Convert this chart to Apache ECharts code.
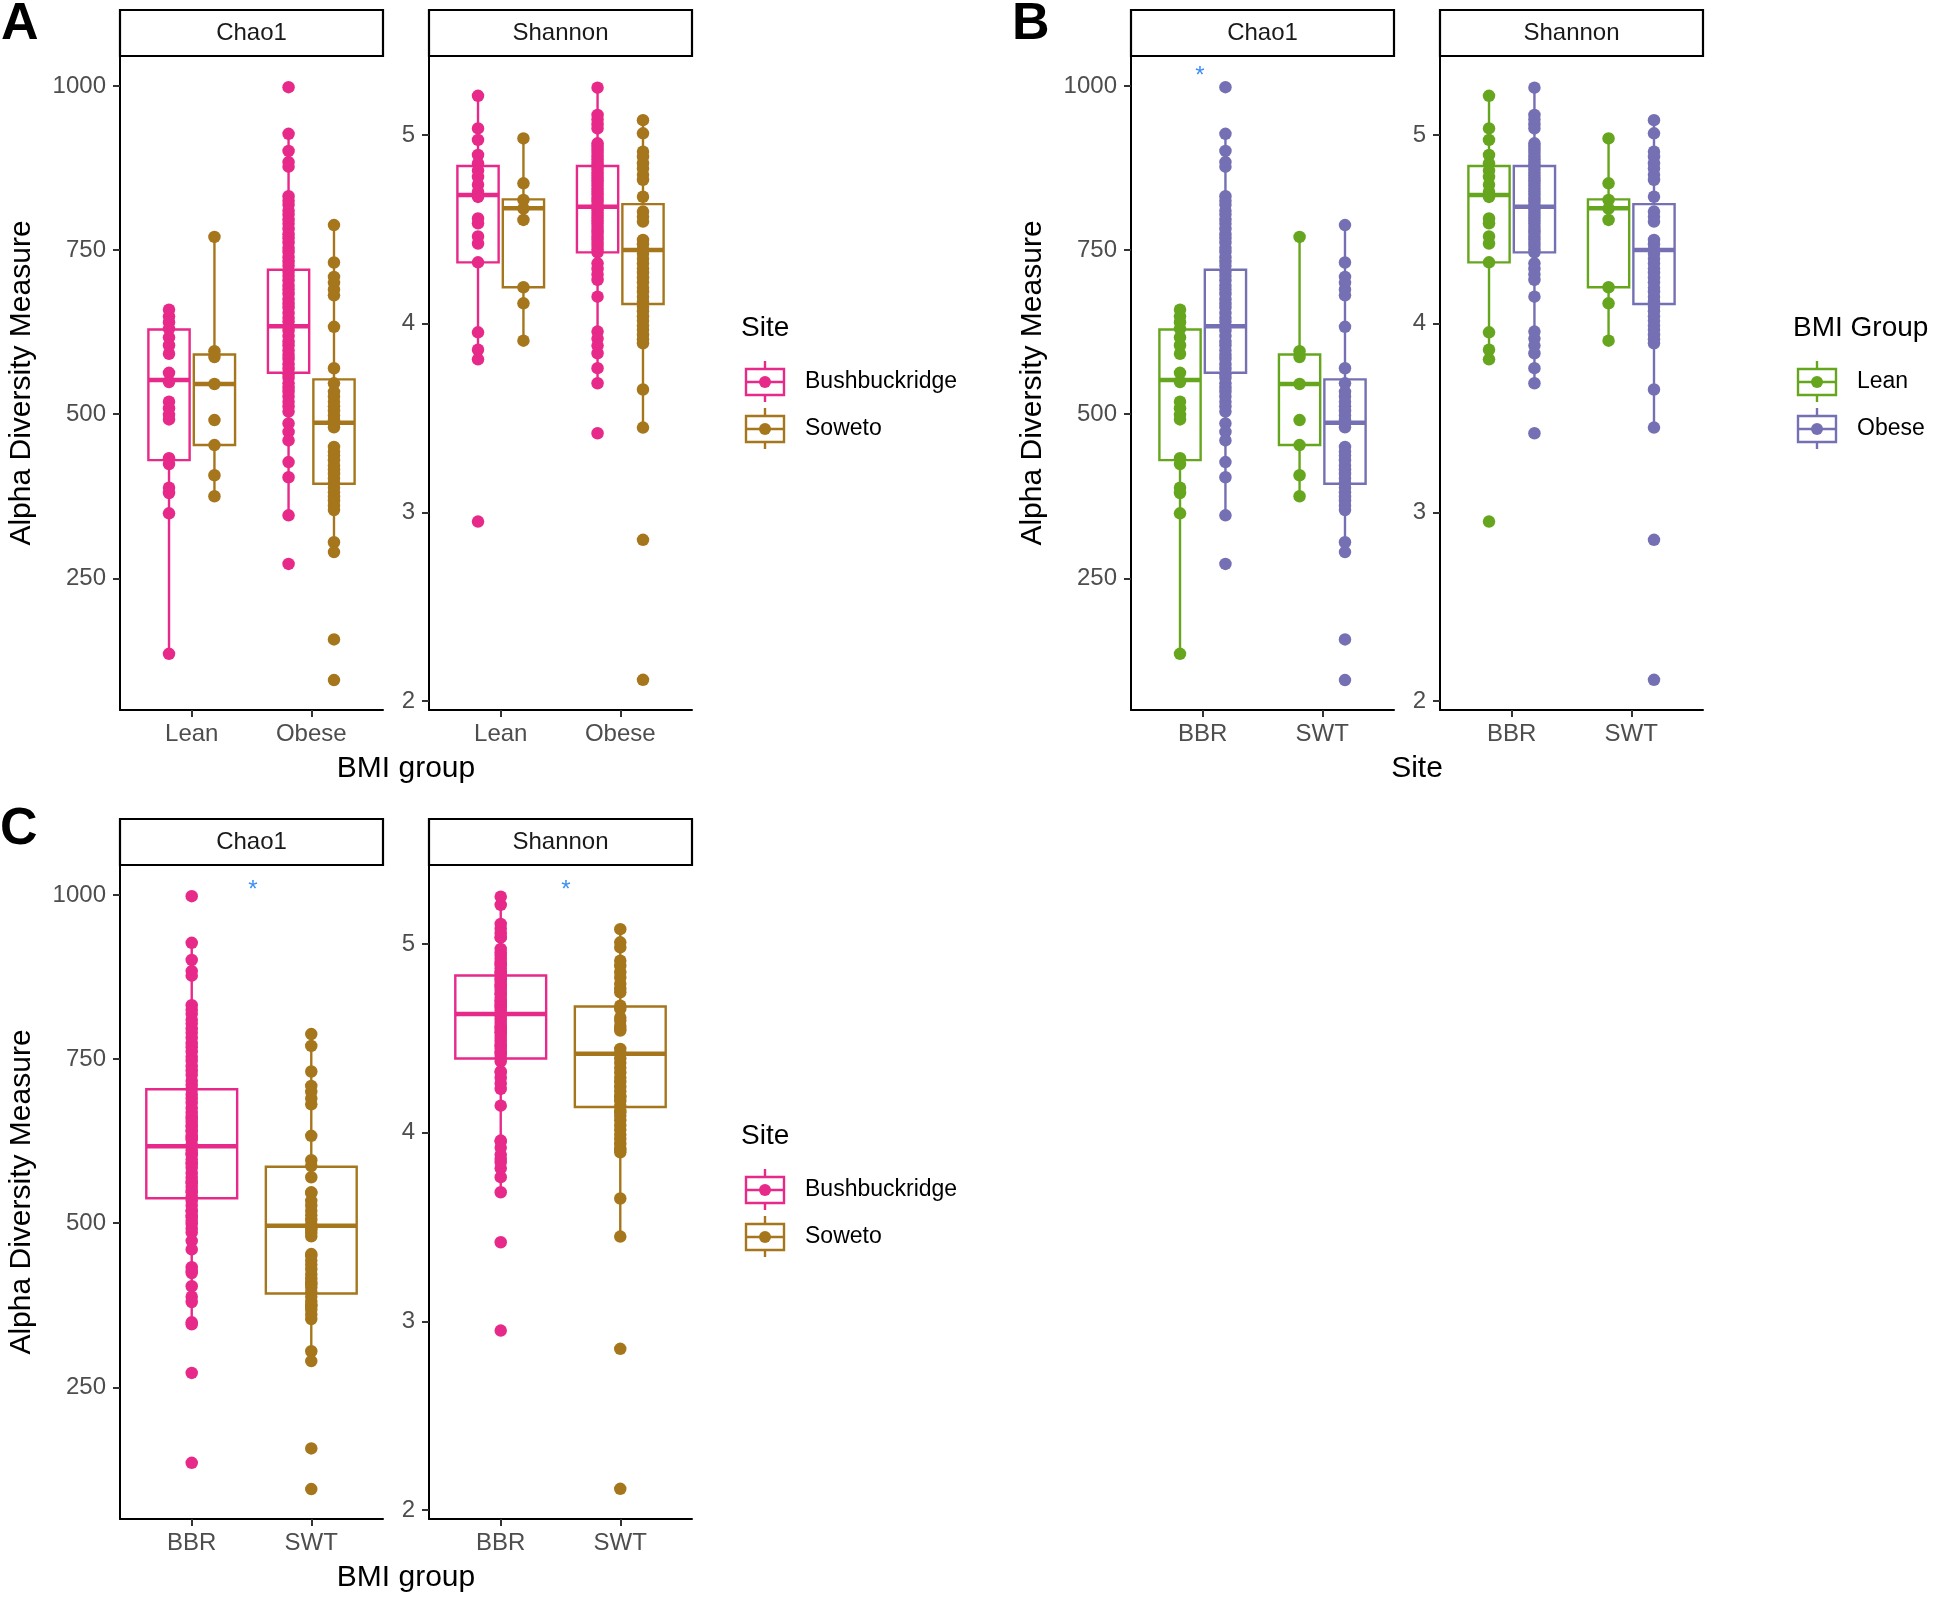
<!DOCTYPE html>
<html>
<head>
<meta charset="utf-8">
<script src="https://cdn.jsdelivr.net/npm/echarts@6/dist/echarts.min.js"></script>
<style>
  html, body { margin: 0; padding: 0; background: #fff; }
  #main { width: 1946px; height: 1597px; }
</style>
</head>
<body>
<div id="main"></div>
<script>
// categories / labels
var bmiCats = ['Lean', 'Obese']
var siteCats = ['BBR', 'SWT']
var siteNames = ['Bushbuckridge', 'Soweto']
var bmiNames = ['Lean', 'Obese']
var chaoTicks = [250, 500, 750, 1000]
var shanTicks = [2, 3, 4, 5]

// Chao1 values per site x BMI group
var chaoLeanBBR = [659, 649, 640, 630, 617, 605, 592, 563, 549, 519, 509, 499, 492, 433, 424, 388, 380, 349, 135]
var chaoLeanSWT = [770, 596, 587, 546, 491, 453, 407, 375]
var chaoObeseBBR = [998, 927, 901, 884, 877, 832, 825, 819, 810, 804, 796, 790, 782, 774, 768, 761, 753, 747, 739, 732,
  726, 717, 711, 704, 696, 690, 683, 675, 668, 662, 654, 647, 641, 633, 627, 619, 611, 605, 597, 590,
  584, 576, 569, 561, 555, 547, 540, 534, 527, 519, 512, 504, 486, 473, 460, 427, 404, 346, 272]
var chaoObeseSWT = [788, 731, 709, 700, 690, 681, 633, 570, 547, 534, 527, 519, 512, 505, 498, 491, 485, 480,
  450, 443, 437, 430, 422, 415, 409, 402, 395, 388, 381, 374, 368, 361, 354, 305, 290, 157, 95]

// Shannon values per site x BMI group
var shanLeanBBR = [5.208, 5.035, 4.974, 4.894, 4.85, 4.812, 4.778, 4.737, 4.70, 4.672, 4.558, 4.532, 4.462, 4.425, 4.325, 3.954, 3.862, 3.811, 2.951]
var shanLeanSWT = [4.982, 4.744, 4.656, 4.61, 4.55, 4.193, 4.108, 3.91]
var shanObeseBBR = [5.251, 5.106, 5.083, 5.057, 5.035, 4.956, 4.941, 4.921, 4.906, 4.888, 4.871, 4.852, 4.836, 4.819, 4.801,
  4.786, 4.767, 4.751, 4.734, 4.716, 4.701, 4.683, 4.665, 4.649, 4.631, 4.616, 4.598, 4.581, 4.564, 4.547, 4.531,
  4.514, 4.496, 4.481, 4.462, 4.446, 4.429, 4.413, 4.394, 4.378, 4.32, 4.29, 4.261, 4.232, 4.143, 3.958, 3.921,
  3.884, 3.843, 3.764, 3.684, 3.419]
var shanObeseSWT = [5.079, 5.009, 4.912, 4.884, 4.851, 4.823, 4.79, 4.762, 4.673, 4.594, 4.567, 4.541, 4.444, 4.421,
  4.394, 4.371, 4.344, 4.319, 4.292, 4.269, 4.242, 4.219, 4.191, 4.168, 4.141, 4.118, 4.09, 4.066, 4.039, 4.016,
  3.99, 3.966, 3.94, 3.917, 3.896, 3.651, 3.449, 2.854, 2.112]

// box stats: [lower whisker, q1, median, q3, upper whisker]
var chaoBoxLeanBBR = [135, 430, 552, 629, 659]
var chaoBoxLeanSWT = [375, 453, 546, 591, 770]
var chaoBoxObeseBBR = [346, 563, 634, 720, 927]
var chaoBoxObeseSWT = [290, 394, 487, 553, 788]
var shanBoxLeanBBR = [3.811, 4.325, 4.682, 4.836, 5.208]
var shanBoxLeanSWT = [3.91, 4.193, 4.612, 4.659, 4.982]
var shanBoxObeseBBR = [3.684, 4.378, 4.62, 4.836, 5.251]
var shanBoxObeseSWT = [3.449, 4.104, 4.391, 4.634, 5.079]
var chaoBoxBBR = [349, 538, 617, 704, 929]
var chaoBoxSWT = [290, 393, 496, 586, 790]
var shanBoxBBR = [3.684, 4.393, 4.629, 4.833, 5.251]
var shanBoxSWT = [3.449, 4.136, 4.419, 4.669, 5.079]

var colPink = '#E7298A'
var colBrown = '#A6761D'
var colGreen = '#66A61E'
var colPurple = '#7570B3'
var fontFam = 'Liberation Sans, Arial, Helvetica, sans-serif'

var chart = echarts.init(document.getElementById('main'))
var grids = []
var xAxes = []
var yAxes = []
var series = []
var graphics = []

function addPanel (left, top, cats, yMin, yMax, yTicks) {
  var gi = grids.length
  grids.push({ left: left, top: top, width: 263, height: 654 })
  xAxes.push({
    gridIndex: gi,
    type: 'value',
    min: 0.4,
    max: 2.6,
    axisLine: { onZero: false, lineStyle: { color: '#000', width: 2 } },
    axisTick: { customValues: [1, 2], length: 7, lineStyle: { color: '#333', width: 2 } },
    axisLabel: {
      customValues: [1, 2],
      formatter: function (v) { return cats[Math.round(v) - 1] },
      color: '#4D4D4D',
      fontSize: 24,
      fontFamily: fontFam,
      margin: 12
    },
    splitLine: { show: false }
  })
  yAxes.push({
    gridIndex: gi,
    type: 'value',
    min: yMin,
    max: yMax,
    axisLine: { show: true, onZero: false, lineStyle: { color: '#000', width: 2 } },
    axisTick: { show: true, customValues: yTicks, length: 7, lineStyle: { color: '#333', width: 2 } },
    axisLabel: {
      customValues: yTicks,
      formatter: function (v) { return String(v) },
      color: '#4D4D4D',
      fontSize: 24,
      fontFamily: fontFam,
      margin: 14
    },
    splitLine: { show: false }
  })
  return gi
}

function addBoxes (gi, color, boxW, rows) {
  series.push({
    type: 'custom',
    xAxisIndex: gi,
    yAxisIndex: gi,
    z: 2,
    silent: true,
    encode: { x: 0, y: [1, 2, 3, 4, 5] },
    data: rows,
    renderItem: function (params, api) {
      var x = api.value(0)
      var pLo = api.coord([x, api.value(1)])
      var pQ1 = api.coord([x, api.value(2)])
      var pMed = api.coord([x, api.value(3)])
      var pQ3 = api.coord([x, api.value(4)])
      var pHi = api.coord([x, api.value(5)])
      var hw = api.size([boxW, 0])[0] / 2
      var cx = pMed[0]
      return {
        type: 'group',
        children: [
          { type: 'line', shape: { x1: cx, y1: pQ3[1], x2: cx, y2: pHi[1] }, style: { stroke: color, lineWidth: 2.4 } },
          { type: 'line', shape: { x1: cx, y1: pQ1[1], x2: cx, y2: pLo[1] }, style: { stroke: color, lineWidth: 2.4 } },
          { type: 'rect', shape: { x: cx - hw, y: pQ3[1], width: hw * 2, height: pQ1[1] - pQ3[1] }, style: { fill: '#fff', stroke: color, lineWidth: 2.4 } },
          { type: 'line', shape: { x1: cx - hw, y1: pMed[1], x2: cx + hw, y2: pMed[1] }, style: { stroke: color, lineWidth: 4.5 } }
        ]
      }
    }
  })
}

function pts (x, vals) {
  return vals.map(function (v) { return [x, v] })
}

function addPoints (gi, color, data) {
  series.push({
    type: 'scatter',
    xAxisIndex: gi,
    yAxisIndex: gi,
    z: 3,
    silent: true,
    symbolSize: 12.5,
    itemStyle: { color: color, opacity: 1 },
    data: data
  })
}

function strip (left, top, label) {
  graphics.push({
    type: 'rect', shape: { x: left, y: top, width: 263, height: 46 },
    style: { fill: '#fff', stroke: '#000', lineWidth: 2.2 }
  })
  graphics.push({
    type: 'text', x: left + 131.5, y: top + 23,
    style: { text: label, fill: '#1A1A1A', fontSize: 24, fontFamily: fontFam, align: 'center', verticalAlign: 'middle' }
  })
}

function txt (x, y, s, size, opts) {
  opts = opts || {}
  graphics.push({
    type: 'text', x: x, y: y, rotation: opts.rotation || 0,
    style: {
      text: s, fill: opts.color || '#000', fontSize: size, fontFamily: fontFam,
      fontWeight: opts.bold ? 'bold' : 'normal',
      align: opts.align || 'left', verticalAlign: 'middle'
    }
  })
}

function legend (x, y, title, names, colors) {
  txt(x, y, title, 28)
  for (var i = 0; i < names.length; i++) {
    var cx = x + 24
    var cy = y + 54 + i * 47
    var c = colors[i]
    graphics.push({ type: 'line', shape: { x1: cx, y1: cy - 21, x2: cx, y2: cy + 20 }, style: { stroke: c, lineWidth: 2.4 } })
    graphics.push({ type: 'rect', shape: { x: cx - 19, y: cy - 13, width: 38, height: 26 }, style: { fill: '#fff', stroke: c, lineWidth: 2.4 } })
    graphics.push({ type: 'line', shape: { x1: cx - 19, y1: cy, x2: cx + 19, y2: cy }, style: { stroke: c, lineWidth: 2.4 } })
    graphics.push({ type: 'circle', shape: { cx: cx, cy: cy, r: 6 }, style: { fill: c } })
    txt(x + 64, cy, names[i], 23)
  }
}

var chaoMin = 49.5
var chaoMax = 1045.5
var shanMin = 1.952
var shanMax = 5.419
var dodge = 0.19
var boxW = 0.345

// Panel A: x = BMI group, colour = site
var a1 = addPanel(120, 56, bmiCats, chaoMin, chaoMax, chaoTicks)
addBoxes(a1, colPink, boxW, [[1 - dodge].concat(chaoBoxLeanBBR), [2 - dodge].concat(chaoBoxObeseBBR)])
addBoxes(a1, colBrown, boxW, [[1 + dodge].concat(chaoBoxLeanSWT), [2 + dodge].concat(chaoBoxObeseSWT)])
addPoints(a1, colPink, pts(1 - dodge, chaoLeanBBR).concat(pts(2 - dodge, chaoObeseBBR)))
addPoints(a1, colBrown, pts(1 + dodge, chaoLeanSWT).concat(pts(2 + dodge, chaoObeseSWT)))

var a2 = addPanel(429, 56, bmiCats, shanMin, shanMax, shanTicks)
addBoxes(a2, colPink, boxW, [[1 - dodge].concat(shanBoxLeanBBR), [2 - dodge].concat(shanBoxObeseBBR)])
addBoxes(a2, colBrown, boxW, [[1 + dodge].concat(shanBoxLeanSWT), [2 + dodge].concat(shanBoxObeseSWT)])
addPoints(a2, colPink, pts(1 - dodge, shanLeanBBR).concat(pts(2 - dodge, shanObeseBBR)))
addPoints(a2, colBrown, pts(1 + dodge, shanLeanSWT).concat(pts(2 + dodge, shanObeseSWT)))

// Panel B: x = site, colour = BMI group
var b1 = addPanel(1131, 56, siteCats, chaoMin, chaoMax, chaoTicks)
addBoxes(b1, colGreen, boxW, [[1 - dodge].concat(chaoBoxLeanBBR), [2 - dodge].concat(chaoBoxLeanSWT)])
addBoxes(b1, colPurple, boxW, [[1 + dodge].concat(chaoBoxObeseBBR), [2 + dodge].concat(chaoBoxObeseSWT)])
addPoints(b1, colGreen, pts(1 - dodge, chaoLeanBBR).concat(pts(2 - dodge, chaoLeanSWT)))
addPoints(b1, colPurple, pts(1 + dodge, chaoObeseBBR).concat(pts(2 + dodge, chaoObeseSWT)))

var b2 = addPanel(1440, 56, siteCats, shanMin, shanMax, shanTicks)
addBoxes(b2, colGreen, boxW, [[1 - dodge].concat(shanBoxLeanBBR), [2 - dodge].concat(shanBoxLeanSWT)])
addBoxes(b2, colPurple, boxW, [[1 + dodge].concat(shanBoxObeseBBR), [2 + dodge].concat(shanBoxObeseSWT)])
addPoints(b2, colGreen, pts(1 - dodge, shanLeanBBR).concat(pts(2 - dodge, shanLeanSWT)))
addPoints(b2, colPurple, pts(1 + dodge, shanObeseBBR).concat(pts(2 + dodge, shanObeseSWT)))

// Panel C: x = site, pooled
var c1 = addPanel(120, 865, siteCats, chaoMin, chaoMax, chaoTicks)
addBoxes(c1, colPink, 0.76, [[1].concat(chaoBoxBBR)])
addBoxes(c1, colBrown, 0.76, [[2].concat(chaoBoxSWT)])
addPoints(c1, colPink, pts(1, chaoLeanBBR.concat(chaoObeseBBR)))
addPoints(c1, colBrown, pts(2, chaoLeanSWT.concat(chaoObeseSWT)))

var c2 = addPanel(429, 865, siteCats, shanMin, shanMax, shanTicks)
addBoxes(c2, colPink, 0.76, [[1].concat(shanBoxBBR)])
addBoxes(c2, colBrown, 0.76, [[2].concat(shanBoxSWT)])
addPoints(c2, colPink, pts(1, shanLeanBBR.concat(shanObeseBBR)))
addPoints(c2, colBrown, pts(2, shanLeanSWT.concat(shanObeseSWT)))

// strips
strip(120, 10, 'Chao1')
strip(429, 10, 'Shannon')
strip(1131, 10, 'Chao1')
strip(1440, 10, 'Shannon')
strip(120, 819, 'Chao1')
strip(429, 819, 'Shannon')

// panel letters
txt(1, 25, 'A', 52, { bold: true })
txt(1012, 25, 'B', 52, { bold: true })
txt(0, 830, 'C', 52, { bold: true })

// axis titles
txt(22, 383, 'Alpha Diversity Measure', 30, { rotation: Math.PI / 2, align: 'center' })
txt(1033, 383, 'Alpha Diversity Measure', 30, { rotation: Math.PI / 2, align: 'center' })
txt(22, 1192, 'Alpha Diversity Measure', 30, { rotation: Math.PI / 2, align: 'center' })
txt(406, 769, 'BMI group', 30, { align: 'center' })
txt(1417, 769, 'Site', 30, { align: 'center' })
txt(406, 1578, 'BMI group', 30, { align: 'center' })

// significance marks
txt(1200, 76, '*', 24, { color: '#3D8EF5', align: 'center' })
txt(253, 890, '*', 24, { color: '#3D8EF5', align: 'center' })
txt(566, 890, '*', 24, { color: '#3D8EF5', align: 'center' })

// legends
legend(741, 328, 'Site', siteNames, [colPink, colBrown])
legend(1793, 328, 'BMI Group', bmiNames, [colGreen, colPurple])
legend(741, 1136, 'Site', siteNames, [colPink, colBrown])

chart.setOption({
  animation: false,
  backgroundColor: '#fff',
  grid: grids,
  xAxis: xAxes,
  yAxis: yAxes,
  series: series,
  graphic: graphics
})
</script>
</body>
</html>
